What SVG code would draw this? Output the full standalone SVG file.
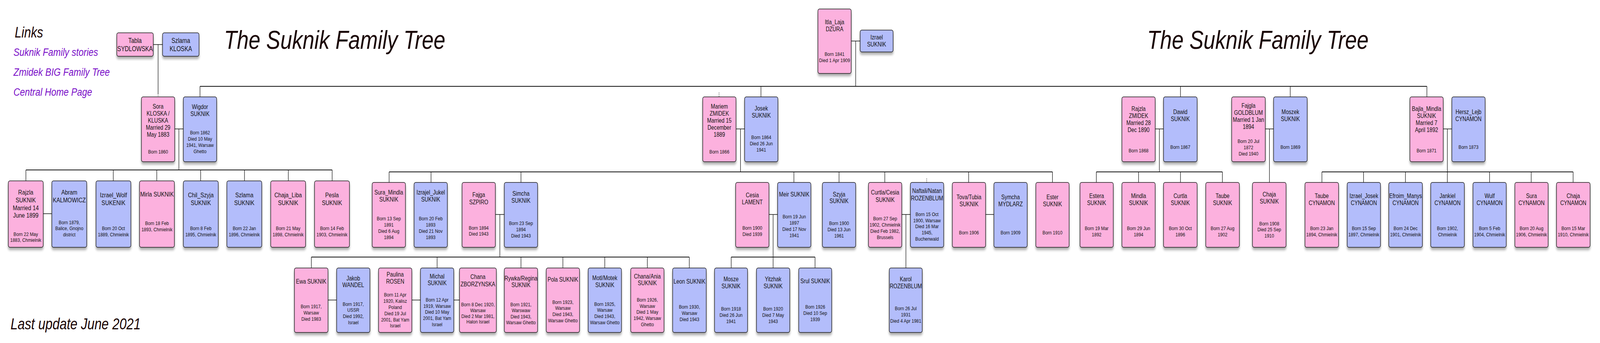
<svg xmlns="http://www.w3.org/2000/svg" width="5000" height="878" viewBox="0 0 5000 878" preserveAspectRatio="none">
<defs>
<filter id="sh" x="-20%" y="-20%" width="140%" height="140%">
<feGaussianBlur in="SourceAlpha" stdDeviation="3.5"/>
<feOffset dx="0" dy="6" result="b"/>
<feComponentTransfer><feFuncA type="linear" slope="0.35"/></feComponentTransfer>
<feMerge><feMergeNode/><feMergeNode in="SourceGraphic"/></feMerge>
</filter>
<style>
:root{width:100%;height:100%}
.f{fill:#fcb1de;stroke:#1e1e1e;stroke-width:1.6;filter:url(#sh)}
.m{fill:#b3bdfb;stroke:#1e1e1e;stroke-width:1.6;filter:url(#sh)}
text{font-family:"Liberation Sans",Arial,Helvetica,sans-serif;fill:#111}
.n{font-size:16px;text-anchor:middle}
.n7{font-size:17px;text-anchor:middle}
.n8{font-size:17.5px;text-anchor:middle}
.d{font-size:13.5px;text-anchor:middle}
.t{font-size:66px;font-style:italic;fill:#1a0505}
.lk{font-size:28px;font-style:italic;fill:#7a10c8}
.bar{stroke:#111;stroke-width:2.2;fill:none}
.drop{stroke:#111;stroke-width:1.5;fill:none}
.dot{stroke:#111;stroke-width:1.3;stroke-dasharray:2 2;fill:none}
</style>
</defs>
<rect width="5000" height="878" fill="#ffffff"/>

<g id="headings">
<text class="t" x="700" y="125">The Suknik Family Tree</text>
<text class="t" x="3585" y="125">The Suknik Family Tree</text>
<text x="46" y="96" style="font-size:38px;font-style:italic;fill:#1a0505">Links</text>
<text class="lk" x="42" y="143">Suknik Family stories</text>
<text class="lk" x="42" y="194">Zmidek BIG Family Tree</text>
<text class="lk" x="42" y="245">Central Home Page</text>
<text x="33" y="843" style="font-size:40px;font-style:italic;fill:#1a0505">Last update June 2021</text>
</g>

<g id="connectors">
<path class="drop" d="M479 114H508M494 114V240"/>
<path class="dot" d="M494 240V248"/>
<path class="drop" d="M2660 105H2688M2674 105V221"/>
<path class="bar" d="M625 221H4459"/>
<path class="drop" d="M625 221V248M2378 221V248M3689 221V248M4032 221V248M4459 221V248"/>
<path class="dot" d="M2247 237V248"/>
<path class="drop" d="M546 330H573M559 330V435"/>
<path class="bar" d="M81 435H1038"/>
<path class="drop" d="M81 435V463M354 435V463M490 435V463M627 435V463M764 435V463M901 435V463M1038 435V463"/>
<path class="drop" d="M135 547H162"/>
<path class="drop" d="M2300 330H2327M2314 330V440"/>
<path class="bar" d="M1216 440H3289"/>
<path class="drop" d="M1216 440V467M1347 440V467M1628 440V467M2481 440V467M2622 440V467M2765 440V467M3027 440V467M3289 440V467"/>
<path class="dot" d="M2896 457V467"/>
<path class="drop" d="M1548 549H1576M1562 549V658"/>
<path class="bar" d="M973 658H2154"/>
<path class="drop" d="M973 658V686M1366 658V686M1628 658V686M1759 658V686M1890 658V686M2023 658V686M2154 658V686"/>
<path class="drop" d="M1025 768H1052M1287 768H1314M1418 768H1436"/>
<path class="drop" d="M2402 549H2430M2416 549V658"/>
<path class="bar" d="M2285 658H2547"/>
<path class="drop" d="M2285 658V686M2416 658V686M2547 658V686"/>
<path class="drop" d="M2817 549H2845M2831 549V686"/>
<path class="drop" d="M3079 549H3106"/>
<path class="drop" d="M3610 330H3636M3623 330V440"/>
<path class="bar" d="M3426 440H3820"/>
<path class="drop" d="M3426 440V467M3558 440V467M3689 440V467M3820 440V467"/>
<path class="drop" d="M3954 330H3980M3967 330V467"/>
<path class="drop" d="M4510 330H4537M4523 330V440"/>
<path class="bar" d="M4131 440H4916"/>
<path class="drop" d="M4131 440V467M4261 440V467M4392 440V467M4523 440V467M4655 440V467M4785 440V467M4916 440V467"/>
</g>

<g id="tabla"><rect class="f" x="365" y="84" width="114" height="60" rx="5"/>
<text class="n8"><tspan x="422" y="110">Tabla</tspan><tspan x="422" y="131">SYDLOWSKA</tspan></text></g>
<g id="szlama-kloska"><rect class="m" x="508" y="84" width="114" height="60" rx="5"/>
<text class="n8"><tspan x="565" y="110">Szlama</tspan><tspan x="565" y="131">KLOSKA</tspan></text></g>
<g id="itla"><rect class="f" x="2556" y="23" width="104" height="165" rx="5"/>
<text class="n"><tspan x="2608" y="62">Itla_Laja</tspan><tspan x="2608" y="80">DZURA</tspan></text>
<text class="d"><tspan x="2608" y="143">Born 1841</tspan><tspan x="2608" y="159">Died 1 Apr 1909</tspan></text></g>
<g id="izrael"><rect class="m" x="2688" y="77" width="103" height="56" rx="5"/>
<text class="n"><tspan x="2739.5" y="101">Izrael</tspan><tspan x="2739.5" y="119">SUKNIK</tspan></text></g>

<g id="sora"><rect class="f" x="442" y="248" width="104" height="166" rx="5"/>
<text class="n"><tspan x="494" y="278">Sora</tspan><tspan x="494" y="296">KLOSKA /</tspan><tspan x="494" y="314">KLUSKA</tspan><tspan x="494" y="332">Married 29</tspan><tspan x="494" y="350">May 1883</tspan></text>
<text class="d"><tspan x="494" y="393">Born 1860</tspan></text></g>
<g id="wigdor"><rect class="m" x="573" y="248" width="104" height="166" rx="5"/>
<text class="n"><tspan x="625" y="279">Wigdor</tspan><tspan x="625" y="297">SUKNIK</tspan></text>
<text class="d"><tspan x="625" y="344">Born 1862</tspan><tspan x="625" y="360">Died 10 May</tspan><tspan x="625" y="376">1941, Warsaw</tspan><tspan x="625" y="392">Ghetto</tspan></text></g>
<g id="mariem"><rect class="f" x="2196" y="248" width="104" height="166" rx="5"/>
<text class="n"><tspan x="2248" y="278">Mariem</tspan><tspan x="2248" y="296">ZMIDEK</tspan><tspan x="2248" y="314">Married 15</tspan><tspan x="2248" y="332">December</tspan><tspan x="2248" y="350">1889</tspan></text>
<text class="d"><tspan x="2248" y="393">Born 1866</tspan></text></g>
<g id="josek"><rect class="m" x="2327" y="248" width="104" height="166" rx="5"/>
<text class="n"><tspan x="2379" y="283">Josek</tspan><tspan x="2379" y="301">SUKNIK</tspan></text>
<text class="d"><tspan x="2379" y="356">Born 1864</tspan><tspan x="2379" y="372">Died 26 Jun</tspan><tspan x="2379" y="388">1941</tspan></text></g>
<g id="rajzla-zmidek"><rect class="f" x="3506" y="248" width="104" height="166" rx="5"/>
<text class="n"><tspan x="3558" y="284">Rajzla</tspan><tspan x="3558" y="302">ZMIDEK</tspan><tspan x="3558" y="320">Married 28</tspan><tspan x="3558" y="338">Dec 1890</tspan></text>
<text class="d"><tspan x="3558" y="390">Born 1868</tspan></text></g>
<g id="dawid"><rect class="m" x="3636" y="248" width="105" height="166" rx="5"/>
<text class="n"><tspan x="3688.5" y="292">Dawid</tspan><tspan x="3688.5" y="310">SUKNIK</tspan></text>
<text class="d"><tspan x="3688.5" y="381">Born 1867</tspan></text></g>
<g id="fajgla"><rect class="f" x="3849" y="248" width="105" height="166" rx="5"/>
<text class="n"><tspan x="3901.5" y="276">Fajgla</tspan><tspan x="3901.5" y="294">GOLDBLUM</tspan><tspan x="3901.5" y="312">Married 1 Jan</tspan><tspan x="3901.5" y="330">1894</tspan></text>
<text class="d"><tspan x="3901.5" y="366">Born 20 Jul</tspan><tspan x="3901.5" y="382">1872</tspan><tspan x="3901.5" y="398">Died 1940</tspan></text></g>
<g id="moszek"><rect class="m" x="3980" y="248" width="105" height="166" rx="5"/>
<text class="n"><tspan x="4032.5" y="292">Moszek</tspan><tspan x="4032.5" y="310">SUKNIK</tspan></text>
<text class="d"><tspan x="4032.5" y="381">Born 1869</tspan></text></g>
<g id="bajla"><rect class="f" x="4406" y="248" width="104" height="166" rx="5"/>
<text class="n"><tspan x="4458" y="284">Bajla_Mindla</tspan><tspan x="4458" y="302">SUKNIK</tspan><tspan x="4458" y="320">Married 7</tspan><tspan x="4458" y="338">April 1892</tspan></text>
<text class="d"><tspan x="4458" y="390">Born 1871</tspan></text></g>
<g id="hersz"><rect class="m" x="4537" y="248" width="104" height="166" rx="5"/>
<text class="n"><tspan x="4589" y="292">Hersz_Lejb</tspan><tspan x="4589" y="310">CYNAMON</tspan></text>
<text class="d"><tspan x="4589" y="381">Born 1873</tspan></text></g>

<g id="rajzla-suknik"><rect class="f" x="26" y="463" width="109" height="170" rx="5"/>
<text class="n7"><tspan x="80.5" y="498">Rajzla</tspan><tspan x="80.5" y="518">SUKNIK</tspan><tspan x="80.5" y="538">Married 14</tspan><tspan x="80.5" y="557">June 1899</tspan></text>
<text class="d"><tspan x="80.5" y="604">Born 22 May</tspan><tspan x="80.5" y="619">1883, Chmielnik</tspan></text></g>
<g id="abram"><rect class="m" x="162" y="463" width="109" height="170" rx="5"/>
<text class="n7"><tspan x="216.5" y="498">Abram</tspan><tspan x="216.5" y="518">KALMOWICZ</tspan></text>
<text class="d"><tspan x="216.5" y="574">Born 1879,</tspan><tspan x="216.5" y="589">Balice, Gnojno</tspan><tspan x="216.5" y="605">district</tspan></text></g>
<g id="izrael-wolf"><rect class="m" x="300" y="463" width="109" height="170" rx="5"/>
<text class="n7"><tspan x="354.5" y="505">Izrael_Wolf</tspan><tspan x="354.5" y="525">SUKENIK</tspan></text>
<text class="d"><tspan x="354.5" y="589">Born 20 Oct</tspan><tspan x="354.5" y="605">1889, Chmielnik</tspan></text></g>
<g id="mirla"><rect class="f" x="436" y="463" width="109" height="170" rx="5"/>
<text class="n7"><tspan x="490.5" y="503">Mirla SUKNIK</tspan></text>
<text class="d"><tspan x="490.5" y="576">Born 18 Feb</tspan><tspan x="490.5" y="592">1893, Chmielnik</tspan></text></g>
<g id="chil-szyja"><rect class="m" x="573" y="463" width="109" height="170" rx="5"/>
<text class="n7"><tspan x="627.5" y="505">Chil_Szyja</tspan><tspan x="627.5" y="525">SUKNIK</tspan></text>
<text class="d"><tspan x="627.5" y="589">Born 8 Feb</tspan><tspan x="627.5" y="605">1895, Chmielnik</tspan></text></g>
<g id="szlama-suknik"><rect class="m" x="709" y="463" width="109" height="170" rx="5"/>
<text class="n7"><tspan x="763.5" y="505">Szlama</tspan><tspan x="763.5" y="525">SUKNIK</tspan></text>
<text class="d"><tspan x="763.5" y="589">Born 22 Jan</tspan><tspan x="763.5" y="605">1896, Chmielnik</tspan></text></g>
<g id="chaja-liba"><rect class="f" x="846" y="463" width="109" height="170" rx="5"/>
<text class="n7"><tspan x="900.5" y="505">Chaja_Liba</tspan><tspan x="900.5" y="525">SUKNIK</tspan></text>
<text class="d"><tspan x="900.5" y="589">Born 21 May</tspan><tspan x="900.5" y="605">1898, Chmielnik</tspan></text></g>
<g id="pesla"><rect class="f" x="983" y="463" width="109" height="170" rx="5"/>
<text class="n7"><tspan x="1037.5" y="505">Pesla</tspan><tspan x="1037.5" y="525">SUKNIK</tspan></text>
<text class="d"><tspan x="1037.5" y="589">Born 14 Feb</tspan><tspan x="1037.5" y="605">1903, Chmielnik</tspan></text></g>

<g id="sura-mindla"><rect class="f" x="1163" y="467" width="104" height="166" rx="5"/>
<text class="n"><tspan x="1215" y="498">Sura_Mindla</tspan><tspan x="1215" y="516">SUKNIK</tspan></text>
<text class="d"><tspan x="1215" y="564">Born 13 Sep</tspan><tspan x="1215" y="580">1891</tspan><tspan x="1215" y="596">Died 6 Aug</tspan><tspan x="1215" y="612">1894</tspan></text></g>
<g id="izrajel-jukel"><rect class="m" x="1294" y="467" width="104" height="166" rx="5"/>
<text class="n"><tspan x="1346" y="498">Izrajel_Jukel</tspan><tspan x="1346" y="516">SUKNIK</tspan></text>
<text class="d"><tspan x="1346" y="564">Born 20 Feb</tspan><tspan x="1346" y="580">1893</tspan><tspan x="1346" y="596">Died 21 Nov</tspan><tspan x="1346" y="612">1893</tspan></text></g>
<g id="fajga"><rect class="f" x="1444" y="467" width="104" height="166" rx="5"/>
<text class="n"><tspan x="1496" y="504">Fajga</tspan><tspan x="1496" y="523">SZPIRO</tspan></text>
<text class="d"><tspan x="1496" y="588">Born 1894</tspan><tspan x="1496" y="603">Died 1943</tspan></text></g>
<g id="simcha"><rect class="m" x="1576" y="467" width="104" height="166" rx="5"/>
<text class="n"><tspan x="1628" y="501">Simcha</tspan><tspan x="1628" y="519">SUKNIK</tspan></text>
<text class="d"><tspan x="1628" y="576">Born 23 Sep</tspan><tspan x="1628" y="592">1894</tspan><tspan x="1628" y="608">Died 1943</tspan></text></g>
<g id="cesia"><rect class="f" x="2299" y="467" width="104" height="166" rx="5"/>
<text class="n"><tspan x="2351" y="505">Cesia</tspan><tspan x="2351" y="523">LAMENT</tspan></text>
<text class="d"><tspan x="2351" y="588">Born 1900</tspan><tspan x="2351" y="604">Died 1939</tspan></text></g>
<g id="meir"><rect class="m" x="2430" y="467" width="104" height="166" rx="5"/>
<text class="n"><tspan x="2482" y="503">Meir SUKNIK</tspan></text>
<text class="d"><tspan x="2482" y="559">Born 19 Jun</tspan><tspan x="2482" y="575">1897</tspan><tspan x="2482" y="591">Died 17 Nov</tspan><tspan x="2482" y="607">1941</tspan></text></g>
<g id="szyja"><rect class="m" x="2570" y="467" width="104" height="166" rx="5"/>
<text class="n"><tspan x="2622" y="503">Szyja</tspan><tspan x="2622" y="520">SUKNIK</tspan></text>
<text class="d"><tspan x="2622" y="576">Born 1900</tspan><tspan x="2622" y="592">Died 13 Jun</tspan><tspan x="2622" y="608">1961</tspan></text></g>
<g id="curtla-cesia"><rect class="f" x="2714" y="467" width="104" height="166" rx="5"/>
<text class="n"><tspan x="2766" y="498">Curtla/Cesia</tspan><tspan x="2766" y="517">SUKNIK</tspan></text>
<text class="d"><tspan x="2766" y="564">Born 27 Sep</tspan><tspan x="2766" y="580">1902, Chmielnik</tspan><tspan x="2766" y="596">Died Feb 1982,</tspan><tspan x="2766" y="612">Brussels</tspan></text></g>
<g id="naftali"><rect class="m" x="2845" y="467" width="104" height="166" rx="5"/>
<text class="n"><tspan x="2897" y="494">Naftali/Natan</tspan><tspan x="2897" y="513">ROZENBLUM</tspan></text>
<text class="d"><tspan x="2897" y="553">Born 15 Oct</tspan><tspan x="2897" y="569">1900, Warsaw</tspan><tspan x="2897" y="584">Died 16 Mar</tspan><tspan x="2897" y="600">1945,</tspan><tspan x="2897" y="616">Buchenwald</tspan></text></g>
<g id="tova"><rect class="f" x="2976" y="467" width="104" height="166" rx="5"/>
<text class="n"><tspan x="3028" y="510">Tova/Tubia</tspan><tspan x="3028" y="528">SUKNIK</tspan></text>
<text class="d"><tspan x="3028" y="600">Born 1906</tspan></text></g>
<g id="symcha"><rect class="m" x="3106" y="467" width="104" height="166" rx="5"/>
<text class="n"><tspan x="3158" y="510">Symcha</tspan><tspan x="3158" y="528">MYDLARZ</tspan></text>
<text class="d"><tspan x="3158" y="600">Born 1909</tspan></text></g>
<g id="ester"><rect class="f" x="3237" y="467" width="104" height="166" rx="5"/>
<text class="n"><tspan x="3289" y="510">Ester</tspan><tspan x="3289" y="528">SUKNIK</tspan></text>
<text class="d"><tspan x="3289" y="600">Born 1910</tspan></text></g>

<g id="estera"><rect class="f" x="3375" y="467" width="104" height="166" rx="5"/>
<text class="n"><tspan x="3427" y="507">Estera</tspan><tspan x="3427" y="525">SUKNIK</tspan></text>
<text class="d"><tspan x="3427" y="589">Born 19 Mar</tspan><tspan x="3427" y="605">1892</tspan></text></g>
<g id="mindla"><rect class="f" x="3506" y="467" width="104" height="166" rx="5"/>
<text class="n"><tspan x="3558" y="507">Mindla</tspan><tspan x="3558" y="525">SUKNIK</tspan></text>
<text class="d"><tspan x="3558" y="589">Born 29 Jun</tspan><tspan x="3558" y="605">1894</tspan></text></g>
<g id="curtla-suknik"><rect class="f" x="3636" y="467" width="105" height="166" rx="5"/>
<text class="n"><tspan x="3688.5" y="507">Curtla</tspan><tspan x="3688.5" y="525">SUKNIK</tspan></text>
<text class="d"><tspan x="3688.5" y="589">Born 30 Oct</tspan><tspan x="3688.5" y="605">1896</tspan></text></g>
<g id="taube-suknik"><rect class="f" x="3768" y="467" width="105" height="166" rx="5"/>
<text class="n"><tspan x="3820.5" y="507">Taube</tspan><tspan x="3820.5" y="525">SUKNIK</tspan></text>
<text class="d"><tspan x="3820.5" y="589">Born 27 Aug</tspan><tspan x="3820.5" y="605">1902</tspan></text></g>
<g id="chaja-suknik"><rect class="f" x="3914" y="467" width="105" height="166" rx="5"/>
<text class="n"><tspan x="3966.5" y="503">Chaja</tspan><tspan x="3966.5" y="521">SUKNIK</tspan></text>
<text class="d"><tspan x="3966.5" y="577">Born 1908</tspan><tspan x="3966.5" y="592">Died 25 Sep</tspan><tspan x="3966.5" y="608">1910</tspan></text></g>
<g id="taube-cynamon"><rect class="f" x="4078" y="467" width="105" height="166" rx="5"/>
<text class="n"><tspan x="4130.5" y="507">Taube</tspan><tspan x="4130.5" y="525">CYNAMON</tspan></text>
<text class="d"><tspan x="4130.5" y="589">Born 23 Jan</tspan><tspan x="4130.5" y="605">1894, Chmielnik</tspan></text></g>
<g id="izrael-josek"><rect class="m" x="4210" y="467" width="104" height="166" rx="5"/>
<text class="n"><tspan x="4262" y="507">Izrael_Josek</tspan><tspan x="4262" y="525">CYNAMON</tspan></text>
<text class="d"><tspan x="4262" y="589">Born 15 Sep</tspan><tspan x="4262" y="605">1897, Chmielnik</tspan></text></g>
<g id="efroim"><rect class="m" x="4340" y="467" width="105" height="166" rx="5"/>
<text class="n"><tspan x="4392.5" y="507">Efroim_Manys</tspan><tspan x="4392.5" y="525">CYNAMON</tspan></text>
<text class="d"><tspan x="4392.5" y="589">Born 24 Dec</tspan><tspan x="4392.5" y="605">1901, Chmielnik</tspan></text></g>
<g id="jankiel"><rect class="m" x="4471" y="467" width="105" height="166" rx="5"/>
<text class="n"><tspan x="4523.5" y="507">Jankiel</tspan><tspan x="4523.5" y="525">CYNAMON</tspan></text>
<text class="d"><tspan x="4523.5" y="589">Born 1902,</tspan><tspan x="4523.5" y="605">Chmielnik</tspan></text></g>
<g id="wulf"><rect class="m" x="4603" y="467" width="104" height="166" rx="5"/>
<text class="n"><tspan x="4655" y="507">Wulf</tspan><tspan x="4655" y="525">CYNAMON</tspan></text>
<text class="d"><tspan x="4655" y="589">Born 5 Feb</tspan><tspan x="4655" y="605">1904, Chmielnik</tspan></text></g>
<g id="sura-cynamon"><rect class="f" x="4734" y="467" width="104" height="166" rx="5"/>
<text class="n"><tspan x="4786" y="507">Sura</tspan><tspan x="4786" y="525">CYNAMON</tspan></text>
<text class="d"><tspan x="4786" y="589">Born 20 Aug</tspan><tspan x="4786" y="605">1906, Chmielnik</tspan></text></g>
<g id="chaja-cynamon"><rect class="f" x="4864" y="467" width="105" height="166" rx="5"/>
<text class="n"><tspan x="4916.5" y="507">Chaja</tspan><tspan x="4916.5" y="525">CYNAMON</tspan></text>
<text class="d"><tspan x="4916.5" y="589">Born 15 Mar</tspan><tspan x="4916.5" y="605">1910, Chmielnik</tspan></text></g>

<g id="ewa"><rect class="f" x="920" y="686" width="105" height="165" rx="5"/>
<text class="n"><tspan x="972.5" y="726">Ewa SUKNIK</tspan></text>
<text class="d"><tspan x="972.5" y="789">Born 1917,</tspan><tspan x="972.5" y="805">Warsaw</tspan><tspan x="972.5" y="821">Died 1983</tspan></text></g>
<g id="jakob"><rect class="m" x="1052" y="686" width="104" height="165" rx="5"/>
<text class="n"><tspan x="1104" y="718">Jakob</tspan><tspan x="1104" y="735">WANDEL</tspan></text>
<text class="d"><tspan x="1104" y="783">Born 1917,</tspan><tspan x="1104" y="798">USSR</tspan><tspan x="1104" y="814">Died 1992,</tspan><tspan x="1104" y="830">Israel</tspan></text></g>
<g id="paulina"><rect class="f" x="1183" y="686" width="104" height="165" rx="5"/>
<text class="n"><tspan x="1235" y="708">Paulina</tspan><tspan x="1235" y="726">ROSEN</tspan></text>
<text class="d"><tspan x="1235" y="759">Born 11 Apr</tspan><tspan x="1235" y="775">1920, Kalisz</tspan><tspan x="1235" y="791">Poland</tspan><tspan x="1235" y="807">Died 19 Jul</tspan><tspan x="1235" y="823">2001, Bat Yam</tspan><tspan x="1235" y="838">Israel</tspan></text></g>
<g id="michal"><rect class="m" x="1314" y="686" width="104" height="165" rx="5"/>
<text class="n"><tspan x="1366" y="713">Michal</tspan><tspan x="1366" y="730">SUKNIK</tspan></text>
<text class="d"><tspan x="1366" y="772">Born 12 Apr</tspan><tspan x="1366" y="788">1919, Warsaw</tspan><tspan x="1366" y="803">Died 10 May</tspan><tspan x="1366" y="819">2001, Bat Yam</tspan><tspan x="1366" y="835">Israel</tspan></text></g>
<g id="chana-zborzynska"><rect class="f" x="1436" y="686" width="115" height="165" rx="5"/>
<text class="n"><tspan x="1493.5" y="714">Chana</tspan><tspan x="1493.5" y="733">ZBORZYNSKA</tspan></text>
<text class="d"><tspan x="1493.5" y="784">Born 8 Dec 1920,</tspan><tspan x="1493.5" y="799">Warsaw</tspan><tspan x="1493.5" y="814">Died 2 Mar 1981,</tspan><tspan x="1493.5" y="828">Halon Israel</tspan></text></g>
<g id="rywka"><rect class="f" x="1576" y="686" width="104" height="165" rx="5"/>
<text class="n"><tspan x="1628" y="718">Rywka/Regina</tspan><tspan x="1628" y="735">SUKNIK</tspan></text>
<text class="d"><tspan x="1628" y="784">Born 1921,</tspan><tspan x="1628" y="799">Warswaw</tspan><tspan x="1628" y="815">Died 1943,</tspan><tspan x="1628" y="830">Warsaw Ghetto</tspan></text></g>
<g id="pola"><rect class="f" x="1707" y="686" width="104" height="165" rx="5"/>
<text class="n"><tspan x="1759" y="721">Pola SUKNIK</tspan></text>
<text class="d"><tspan x="1759" y="778">Born 1923,</tspan><tspan x="1759" y="793">Warsaw</tspan><tspan x="1759" y="809">Died 1943,</tspan><tspan x="1759" y="825">Warsaw Ghetto</tspan></text></g>
<g id="motl"><rect class="m" x="1838" y="686" width="104" height="165" rx="5"/>
<text class="n"><tspan x="1890" y="717">Motl/Motek</tspan><tspan x="1890" y="735">SUKNIK</tspan></text>
<text class="d"><tspan x="1890" y="783">Born 1925,</tspan><tspan x="1890" y="798">Warsaw</tspan><tspan x="1890" y="814">Died 1943,</tspan><tspan x="1890" y="830">Warsaw Ghetto</tspan></text></g>
<g id="chana-ania"><rect class="f" x="1971" y="686" width="104" height="165" rx="5"/>
<text class="n"><tspan x="2023" y="713">Chana/Ania</tspan><tspan x="2023" y="730">SUKNIK</tspan></text>
<text class="d"><tspan x="2023" y="772">Born 1926,</tspan><tspan x="2023" y="788">Warsaw</tspan><tspan x="2023" y="803">Died 1 May</tspan><tspan x="2023" y="819">1942, Warsaw</tspan><tspan x="2023" y="835">Ghetto</tspan></text></g>
<g id="leon"><rect class="m" x="2102" y="686" width="105" height="165" rx="5"/>
<text class="n"><tspan x="2154.5" y="726">Leon SUKNIK</tspan></text>
<text class="d"><tspan x="2154.5" y="790">Born 1930,</tspan><tspan x="2154.5" y="806">Warsaw</tspan><tspan x="2154.5" y="822">Died 1943</tspan></text></g>
<g id="mosze"><rect class="m" x="2233" y="686" width="103" height="165" rx="5"/>
<text class="n"><tspan x="2284.5" y="720">Mosze</tspan><tspan x="2284.5" y="738">SUKNIK</tspan></text>
<text class="d"><tspan x="2284.5" y="795">Born 1918</tspan><tspan x="2284.5" y="811">Died 26 Jun</tspan><tspan x="2284.5" y="827">1941</tspan></text></g>
<g id="yitzhak"><rect class="m" x="2364" y="686" width="104" height="165" rx="5"/>
<text class="n"><tspan x="2416" y="720">Yitzhak</tspan><tspan x="2416" y="738">SUKNIK</tspan></text>
<text class="d"><tspan x="2416" y="795">Born 1920</tspan><tspan x="2416" y="811">Died 7 May</tspan><tspan x="2416" y="827">1943</tspan></text></g>
<g id="srul"><rect class="m" x="2496" y="686" width="103" height="165" rx="5"/>
<text class="n"><tspan x="2547.5" y="725">Srul SUKNIK</tspan></text>
<text class="d"><tspan x="2547.5" y="790">Born 1926</tspan><tspan x="2547.5" y="806">Died 10 Sep</tspan><tspan x="2547.5" y="822">1939</tspan></text></g>
<g id="karol"><rect class="m" x="2779" y="686" width="103" height="165" rx="5"/>
<text class="n"><tspan x="2830.5" y="720">Karol</tspan><tspan x="2830.5" y="738">ROZENBLUM</tspan></text>
<text class="d"><tspan x="2830.5" y="794">Born 26 Jul</tspan><tspan x="2830.5" y="810">1931</tspan><tspan x="2830.5" y="826">Died 4 Apr 1981</tspan></text></g>
</svg>
